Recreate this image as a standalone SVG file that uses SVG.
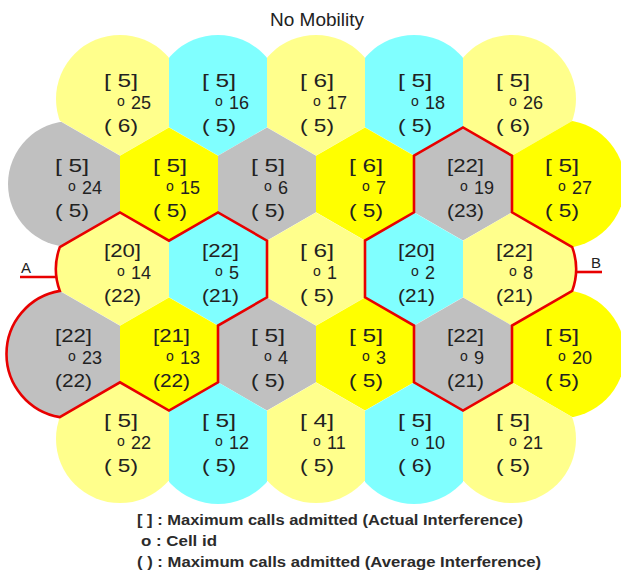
<svg xmlns="http://www.w3.org/2000/svg" xmlns:xlink="http://www.w3.org/1999/xlink" width="621" height="574" viewBox="0 0 621 574">
<style>
.ly{fill:#FFFF8C}.cy{fill:#80FFFF}.g{fill:#C0C0C0}.y{fill:#FFFF00}
.t{font-family:"Liberation Sans",Arial,sans-serif;font-size:18px;fill:#222}
.o{font-size:14px}
.lg{font-family:"Liberation Sans",Arial,sans-serif;font-size:14px;font-weight:bold;fill:#2b2b2b}
.ttl{font-family:"Liberation Sans",Arial,sans-serif;font-size:18px;fill:#222}
.red{fill:none;stroke:#E80000;stroke-width:2.6;stroke-linejoin:miter}
</style>
<defs>
<polygon id="hex" points="0,-56.6 49,-28.3 49,28.3 0,56.6 -49,28.3 -49,-28.3"/>
<clipPath id="cR"><rect x="-120" y="-120" width="169" height="240"/></clipPath>
<clipPath id="cL"><rect x="-120" y="-120" width="169" height="240" transform="rotate(180)"/></clipPath>
<clipPath id="cUR"><rect x="-120" y="-120" width="169" height="240" transform="rotate(-60)"/></clipPath>
<clipPath id="cUL"><rect x="-120" y="-120" width="169" height="240" transform="rotate(-120)"/></clipPath>
<clipPath id="cLL"><rect x="-120" y="-120" width="169" height="240" transform="rotate(120)"/></clipPath>
<clipPath id="cLR"><rect x="-120" y="-120" width="169" height="240" transform="rotate(60)"/></clipPath>
</defs>
<rect width="621" height="574" fill="#fff"/>
<text class="ttl" x="270" y="26" textLength="94" lengthAdjust="spacingAndGlyphs">No Mobility</text>
<g id="cells">
<g id="cell25" transform="translate(120,99)"><g clip-path="url(#cR)"><g clip-path="url(#cLL)"><g clip-path="url(#cLR)"><circle r="64" class="ly"/></g></g></g>
<text class="t" x="-16" y="-12" textLength="34" lengthAdjust="spacingAndGlyphs">[ 5]</text><text class="t"><tspan class="o" x="-3" y="7">o</tspan><tspan x="11" y="10">25</tspan></text><text class="t" x="-16" y="33" textLength="34" lengthAdjust="spacingAndGlyphs">( 6)</text></g>
<g id="cell16" transform="translate(218,99)"><g clip-path="url(#cR)"><g clip-path="url(#cL)"><g clip-path="url(#cLL)"><g clip-path="url(#cLR)"><circle r="64" class="cy"/></g></g></g></g>
<text class="t" x="-16" y="-12" textLength="34" lengthAdjust="spacingAndGlyphs">[ 5]</text><text class="t"><tspan class="o" x="-3" y="7">o</tspan><tspan x="11" y="10">16</tspan></text><text class="t" x="-16" y="33" textLength="34" lengthAdjust="spacingAndGlyphs">( 5)</text></g>
<g id="cell17" transform="translate(316,99)"><g clip-path="url(#cR)"><g clip-path="url(#cL)"><g clip-path="url(#cLL)"><g clip-path="url(#cLR)"><circle r="64" class="ly"/></g></g></g></g>
<text class="t" x="-16" y="-12" textLength="34" lengthAdjust="spacingAndGlyphs">[ 6]</text><text class="t"><tspan class="o" x="-3" y="7">o</tspan><tspan x="11" y="10">17</tspan></text><text class="t" x="-16" y="33" textLength="34" lengthAdjust="spacingAndGlyphs">( 5)</text></g>
<g id="cell18" transform="translate(414,99)"><g clip-path="url(#cR)"><g clip-path="url(#cL)"><g clip-path="url(#cLL)"><g clip-path="url(#cLR)"><circle r="64" class="cy"/></g></g></g></g>
<text class="t" x="-16" y="-12" textLength="34" lengthAdjust="spacingAndGlyphs">[ 5]</text><text class="t"><tspan class="o" x="-3" y="7">o</tspan><tspan x="11" y="10">18</tspan></text><text class="t" x="-16" y="33" textLength="34" lengthAdjust="spacingAndGlyphs">( 5)</text></g>
<g id="cell26" transform="translate(512,99)"><g clip-path="url(#cL)"><g clip-path="url(#cLL)"><g clip-path="url(#cLR)"><circle r="64" class="ly"/></g></g></g>
<text class="t" x="-16" y="-12" textLength="34" lengthAdjust="spacingAndGlyphs">[ 5]</text><text class="t"><tspan class="o" x="-3" y="7">o</tspan><tspan x="11" y="10">26</tspan></text><text class="t" x="-16" y="33" textLength="34" lengthAdjust="spacingAndGlyphs">( 6)</text></g>

<g id="cell24" transform="translate(71,184)"><g clip-path="url(#cR)"><g clip-path="url(#cUR)"><g clip-path="url(#cLR)"><circle r="63" class="g"/></g></g></g>
<text class="t" x="-16" y="-12" textLength="34" lengthAdjust="spacingAndGlyphs">[ 5]</text><text class="t"><tspan class="o" x="-3" y="7">o</tspan><tspan x="11" y="10">24</tspan></text><text class="t" x="-16" y="33" textLength="34" lengthAdjust="spacingAndGlyphs">( 5)</text></g>
<g id="cell15" transform="translate(169,184)"><use xlink:href="#hex" class="y"/>
<text class="t" x="-16" y="-12" textLength="34" lengthAdjust="spacingAndGlyphs">[ 5]</text><text class="t"><tspan class="o" x="-3" y="7">o</tspan><tspan x="11" y="10">15</tspan></text><text class="t" x="-16" y="33" textLength="34" lengthAdjust="spacingAndGlyphs">( 5)</text></g>
<g id="cell6" transform="translate(267,184)"><use xlink:href="#hex" class="g"/>
<text class="t" x="-16" y="-12" textLength="34" lengthAdjust="spacingAndGlyphs">[ 5]</text><text class="t"><tspan class="o" x="-3" y="7">o</tspan><tspan x="11" y="10">6</tspan></text><text class="t" x="-16" y="33" textLength="34" lengthAdjust="spacingAndGlyphs">( 5)</text></g>
<g id="cell7" transform="translate(365,184)"><use xlink:href="#hex" class="y"/>
<text class="t" x="-16" y="-12" textLength="34" lengthAdjust="spacingAndGlyphs">[ 6]</text><text class="t"><tspan class="o" x="-3" y="7">o</tspan><tspan x="11" y="10">7</tspan></text><text class="t" x="-16" y="33" textLength="34" lengthAdjust="spacingAndGlyphs">( 5)</text></g>
<g id="cell19" transform="translate(463,184)"><use xlink:href="#hex" class="g"/>
<text class="t" x="-16" y="-12" textLength="37" lengthAdjust="spacingAndGlyphs">[22]</text><text class="t"><tspan class="o" x="-3" y="7">o</tspan><tspan x="11" y="10">19</tspan></text><text class="t" x="-16" y="33" textLength="37" lengthAdjust="spacingAndGlyphs">(23)</text></g>
<g id="cell27" transform="translate(561,184)"><g clip-path="url(#cL)"><g clip-path="url(#cUL)"><g clip-path="url(#cLL)"><circle r="64" class="y"/></g></g></g>
<text class="t" x="-16" y="-12" textLength="34" lengthAdjust="spacingAndGlyphs">[ 5]</text><text class="t"><tspan class="o" x="-3" y="7">o</tspan><tspan x="11" y="10">27</tspan></text><text class="t" x="-16" y="33" textLength="34" lengthAdjust="spacingAndGlyphs">( 5)</text></g>

<g id="cell14" transform="translate(120,269)"><g clip-path="url(#cR)"><g clip-path="url(#cUL)"><g clip-path="url(#cUR)"><g clip-path="url(#cLL)"><g clip-path="url(#cLR)"><circle r="64" class="ly"/></g></g></g></g></g>
<text class="t" x="-16" y="-12" textLength="37" lengthAdjust="spacingAndGlyphs">[20]</text><text class="t"><tspan class="o" x="-3" y="7">o</tspan><tspan x="11" y="10">14</tspan></text><text class="t" x="-16" y="33" textLength="37" lengthAdjust="spacingAndGlyphs">(22)</text></g>
<g id="cell5" transform="translate(218,269)"><use xlink:href="#hex" class="cy"/>
<text class="t" x="-16" y="-12" textLength="37" lengthAdjust="spacingAndGlyphs">[22]</text><text class="t"><tspan class="o" x="-3" y="7">o</tspan><tspan x="11" y="10">5</tspan></text><text class="t" x="-16" y="33" textLength="37" lengthAdjust="spacingAndGlyphs">(21)</text></g>
<g id="cell1" transform="translate(316,269)"><use xlink:href="#hex" class="ly"/>
<text class="t" x="-16" y="-12" textLength="34" lengthAdjust="spacingAndGlyphs">[ 6]</text><text class="t"><tspan class="o" x="-3" y="7">o</tspan><tspan x="11" y="10">1</tspan></text><text class="t" x="-16" y="33" textLength="34" lengthAdjust="spacingAndGlyphs">( 5)</text></g>
<g id="cell2" transform="translate(414,269)"><use xlink:href="#hex" class="cy"/>
<text class="t" x="-16" y="-12" textLength="37" lengthAdjust="spacingAndGlyphs">[20]</text><text class="t"><tspan class="o" x="-3" y="7">o</tspan><tspan x="11" y="10">2</tspan></text><text class="t" x="-16" y="33" textLength="37" lengthAdjust="spacingAndGlyphs">(21)</text></g>
<g id="cell8" transform="translate(512,269)"><g clip-path="url(#cL)"><g clip-path="url(#cUL)"><g clip-path="url(#cUR)"><g clip-path="url(#cLL)"><g clip-path="url(#cLR)"><circle r="64" class="ly"/></g></g></g></g></g>
<text class="t" x="-16" y="-12" textLength="37" lengthAdjust="spacingAndGlyphs">[22]</text><text class="t"><tspan class="o" x="-3" y="7">o</tspan><tspan x="11" y="10">8</tspan></text><text class="t" x="-16" y="33" textLength="37" lengthAdjust="spacingAndGlyphs">(21)</text></g>

<g id="cell23" transform="translate(71,354)"><g clip-path="url(#cR)"><g clip-path="url(#cUR)"><g clip-path="url(#cLR)"><circle r="64" class="g"/></g></g></g>
<text class="t" x="-16" y="-12" textLength="37" lengthAdjust="spacingAndGlyphs">[22]</text><text class="t"><tspan class="o" x="-3" y="7">o</tspan><tspan x="11" y="10">23</tspan></text><text class="t" x="-16" y="33" textLength="37" lengthAdjust="spacingAndGlyphs">(22)</text></g>
<g id="cell13" transform="translate(169,354)"><use xlink:href="#hex" class="y"/>
<text class="t" x="-16" y="-12" textLength="37" lengthAdjust="spacingAndGlyphs">[21]</text><text class="t"><tspan class="o" x="-3" y="7">o</tspan><tspan x="11" y="10">13</tspan></text><text class="t" x="-16" y="33" textLength="37" lengthAdjust="spacingAndGlyphs">(22)</text></g>
<g id="cell4" transform="translate(267,354)"><use xlink:href="#hex" class="g"/>
<text class="t" x="-16" y="-12" textLength="34" lengthAdjust="spacingAndGlyphs">[ 5]</text><text class="t"><tspan class="o" x="-3" y="7">o</tspan><tspan x="11" y="10">4</tspan></text><text class="t" x="-16" y="33" textLength="34" lengthAdjust="spacingAndGlyphs">( 5)</text></g>
<g id="cell3" transform="translate(365,354)"><use xlink:href="#hex" class="y"/>
<text class="t" x="-16" y="-12" textLength="34" lengthAdjust="spacingAndGlyphs">[ 5]</text><text class="t"><tspan class="o" x="-3" y="7">o</tspan><tspan x="11" y="10">3</tspan></text><text class="t" x="-16" y="33" textLength="34" lengthAdjust="spacingAndGlyphs">( 5)</text></g>
<g id="cell9" transform="translate(463,354)"><use xlink:href="#hex" class="g"/>
<text class="t" x="-16" y="-12" textLength="37" lengthAdjust="spacingAndGlyphs">[22]</text><text class="t"><tspan class="o" x="-3" y="7">o</tspan><tspan x="11" y="10">9</tspan></text><text class="t" x="-16" y="33" textLength="37" lengthAdjust="spacingAndGlyphs">(21)</text></g>
<g id="cell20" transform="translate(561,354)"><g clip-path="url(#cL)"><g clip-path="url(#cUL)"><g clip-path="url(#cLL)"><circle r="64" class="y"/></g></g></g>
<text class="t" x="-16" y="-12" textLength="34" lengthAdjust="spacingAndGlyphs">[ 5]</text><text class="t"><tspan class="o" x="-3" y="7">o</tspan><tspan x="11" y="10">20</tspan></text><text class="t" x="-16" y="33" textLength="34" lengthAdjust="spacingAndGlyphs">( 5)</text></g>

<g id="cell22" transform="translate(120,439)"><g clip-path="url(#cR)"><g clip-path="url(#cUL)"><g clip-path="url(#cUR)"><circle r="64" class="ly"/></g></g></g>
<text class="t" x="-16" y="-12" textLength="34" lengthAdjust="spacingAndGlyphs">[ 5]</text><text class="t"><tspan class="o" x="-3" y="7">o</tspan><tspan x="11" y="10">22</tspan></text><text class="t" x="-16" y="33" textLength="34" lengthAdjust="spacingAndGlyphs">( 5)</text></g>
<g id="cell12" transform="translate(218,439)"><g clip-path="url(#cR)"><g clip-path="url(#cL)"><g clip-path="url(#cUL)"><g clip-path="url(#cUR)"><circle r="65" class="cy"/></g></g></g></g>
<text class="t" x="-16" y="-12" textLength="34" lengthAdjust="spacingAndGlyphs">[ 5]</text><text class="t"><tspan class="o" x="-3" y="7">o</tspan><tspan x="11" y="10">12</tspan></text><text class="t" x="-16" y="33" textLength="34" lengthAdjust="spacingAndGlyphs">( 5)</text></g>
<g id="cell11" transform="translate(316,439)"><g clip-path="url(#cR)"><g clip-path="url(#cL)"><g clip-path="url(#cUL)"><g clip-path="url(#cUR)"><circle r="64" class="ly"/></g></g></g></g>
<text class="t" x="-16" y="-12" textLength="34" lengthAdjust="spacingAndGlyphs">[ 4]</text><text class="t"><tspan class="o" x="-3" y="7">o</tspan><tspan x="11" y="10">11</tspan></text><text class="t" x="-16" y="33" textLength="34" lengthAdjust="spacingAndGlyphs">( 5)</text></g>
<g id="cell10" transform="translate(414,439)"><g clip-path="url(#cR)"><g clip-path="url(#cL)"><g clip-path="url(#cUL)"><g clip-path="url(#cUR)"><circle r="65" class="cy"/></g></g></g></g>
<text class="t" x="-16" y="-12" textLength="34" lengthAdjust="spacingAndGlyphs">[ 5]</text><text class="t"><tspan class="o" x="-3" y="7">o</tspan><tspan x="11" y="10">10</tspan></text><text class="t" x="-16" y="33" textLength="34" lengthAdjust="spacingAndGlyphs">( 6)</text></g>
<g id="cell21" transform="translate(512,439)"><g clip-path="url(#cL)"><g clip-path="url(#cUL)"><g clip-path="url(#cUR)"><circle r="64" class="ly"/></g></g></g>
<text class="t" x="-16" y="-12" textLength="34" lengthAdjust="spacingAndGlyphs">[ 5]</text><text class="t"><tspan class="o" x="-3" y="7">o</tspan><tspan x="11" y="10">21</tspan></text><text class="t" x="-16" y="33" textLength="34" lengthAdjust="spacingAndGlyphs">( 5)</text></g>
</g>
<g id="connectors">
<path class="red" d="M59.8,247.1 L71,240.7 L120,212.4 L169,240.7 L218,212.4 L267,240.7 L267,297.3 L218,325.6 L218,382.3 L169,410.6 L120,382.3 L71,410.6 L59.8,417.1 A64,64 0 0 1 59.8,290.9 A64,64 0 0 1 59.8,247.1 Z"/>
<path class="red" d="M414,155.7 L463,127.4 L512,155.7 L512,212.3 L561,240.6 L572.2,247.1 A64,64 0 0 1 572.2,290.9 L561,297.3 L512,325.6 L512,382.3 L463,410.6 L414,382.3 L414,325.6 L365,297.3 L365,240.6 L414,212.3 Z"/>
<line class="red" x1="20" y1="277" x2="57" y2="277"/>
<line class="red" x1="575" y1="272" x2="602" y2="272"/>
<text class="t" x="21" y="273" style="font-size:15px">A</text>
<text class="t" x="591" y="268" style="font-size:15px">B</text>
</g>
<g id="legend">
<text class="lg" x="137" y="525" textLength="386" lengthAdjust="spacingAndGlyphs">[ ] : Maximum calls admitted (Actual Interference)</text>
<text class="lg" x="141" y="546" textLength="76" lengthAdjust="spacingAndGlyphs">o : Cell id</text>
<text class="lg" x="137" y="567" textLength="404" lengthAdjust="spacingAndGlyphs">( ) : Maximum calls admitted (Average Interference)</text>
</g>
</svg>
